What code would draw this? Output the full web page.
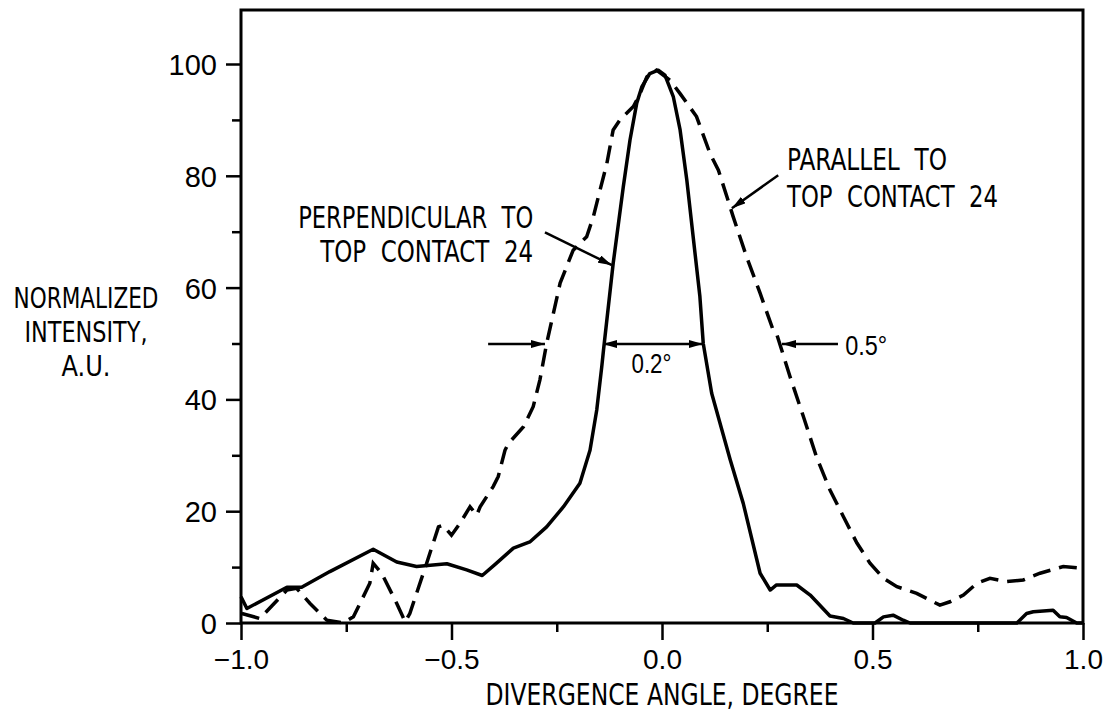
<!DOCTYPE html>
<html>
<head>
<meta charset="utf-8">
<script src="https://cdn.jsdelivr.net/npm/d3@7"></script>
<style>
  body { margin: 0; background: #fff; }
  svg { display: block; }
  text { fill: #000; }
  .num { font-family: 'Liberation Sans', Arial, sans-serif; }
  .lbl { font-family: 'DejaVu Sans Condensed', 'DejaVu Sans', sans-serif; font-stretch: condensed; }
</style>
</head>
<body>
<div id="root"></div>
<script>
const width = 1108;
const height = 715;
const margin = { top: 10, right: 25, bottom: 92, left: 241 };

// Perpendicular to top contact (solid)
const perpAngle = [
  -1.0, -0.986, -0.891, -0.856, -0.789, -0.686, -0.63, -0.583, -0.511, -0.464,
  -0.427, -0.393, -0.353, -0.314, -0.274, -0.234, -0.195, -0.171, -0.155, -0.143,
  -0.139, -0.116, -0.092, -0.076, -0.06, -0.048, -0.029, -0.009, 0.007, 0.027,
  0.043, 0.059, 0.074, 0.09, 0.098, 0.118, 0.162, 0.193, 0.233, 0.257,
  0.272, 0.32, 0.352, 0.399, 0.431, 0.454, 0.506, 0.526, 0.549, 0.573,
  0.589, 0.843, 0.866, 0.882, 0.929, 0.945, 0.961, 0.985, 1.0,
];
const perpIntensity = [
  4.7, 2.6, 6.4, 6.4, 9.2, 13.2, 10.9, 10.1, 10.6, 9.5,
  8.5, 10.7, 13.4, 14.5, 17.2, 20.8, 25.0, 30.9, 38.1, 45.9,
  48.8, 64.3, 78, 86.4, 93, 95.9, 98.3, 98.9, 98, 94.1,
  88.2, 79.2, 69.1, 58.4, 50, 41.1, 29.2, 21.4, 8.9, 5.9,
  6.8, 6.8, 5.0, 1.25, 0.8, 0, 0, 1.1, 1.4, 0.5,
  0, 0, 1.7, 2.0, 2.3, 1.1, 1.0, 0, 0,
];

// Parallel to top contact (dashed)
const paraAngle = [
  -0.998, -0.955, -0.891, -0.868, -0.836, -0.796, -0.757, -0.733, -0.694, -0.686,
  -0.666, -0.63, -0.61, -0.599, -0.559, -0.531, -0.52, -0.5, -0.48, -0.456,
  -0.44, -0.432, -0.401, -0.389, -0.373, -0.365, -0.329, -0.306, -0.29, -0.274,
  -0.242, -0.211, -0.179, -0.163, -0.147, -0.131, -0.116, -0.1, -0.068, -0.052,
  -0.036, -0.013, 0.019, 0.043, 0.082, 0.114, 0.134, 0.154, 0.169, 0.201,
  0.233, 0.264, 0.272, 0.304, 0.336, 0.367, 0.399, 0.431, 0.463, 0.494,
  0.526, 0.558, 0.605, 0.66, 0.684, 0.716, 0.748, 0.779, 0.819, 0.858,
  0.898, 0.953, 0.997,
];
const paraIntensity = [
  1.7, 0.8, 5.9, 6.2, 3.5, 0.5, 0, 1.1, 7.1, 10.7,
  8.9, 3.5, 0.2, 1.7, 10.7, 17.2, 17.5, 15.7, 17.8, 20.8,
  19.3, 20.8, 24.4, 26.2, 30.9, 32.1, 35.1, 38.7, 43.5, 50,
  60.8, 66.7, 69.1, 72.7, 77.5, 82.2, 88.2, 90, 92.4, 94.7,
  97.7, 98.9, 97.1, 94.7, 90.6, 84, 81, 76.3, 72.7, 65.5,
  59, 52.4, 51.8, 44.1, 36.9, 29.7, 23.8, 19, 14.3, 10.7,
  8.0, 6.5, 5.3, 3.2, 3.8, 5.0, 7.1, 8.0, 7.4, 7.7,
  8.9, 10.1, 9.8,
];

const xTicks = [-1.0, -0.75, -0.5, -0.25, 0, 0.25, 0.5, 0.75, 1.0];
const xTickLabels = ['\u22121.0', '', '\u22120.5', '', '0.0', '', '0.5', '', '1.0'];
const yTicks = [0, 10, 20, 30, 40, 50, 60, 70, 80, 90, 100];
const yTickLabels = ['0', '', '20', '', '40', '', '60', '', '80', '', '100'];

const xTitle = 'DIVERGENCE ANGLE, DEGREE';
const yTitle = ['NORMALIZED', 'INTENSITY,', 'A.U.'];
const perpLabel = ['PERPENDICULAR  TO', 'TOP  CONTACT  24'];
const paraLabel = ['PARALLEL  TO', 'TOP  CONTACT  24'];

// Main canvas

const svg = d3
  .select('#root')
  .append('svg')
  .attr('width', width)
  .attr('height', height);

const defs = svg.append('defs');

defs
  .append('marker')
  .attr('id', 'arrow')
  .attr('viewBox', '0 0 14 8')
  .attr('refX', 14)
  .attr('refY', 4)
  .attr('markerWidth', 14)
  .attr('markerHeight', 8)
  .attr('markerUnits', 'userSpaceOnUse')
  .attr('orient', 'auto-start-reverse')
  .append('path')
  .attr('d', 'M0,0 L14,4 L0,8 Z')
  .attr('fill', '#000');

// Scales

const xScale = d3
  .scaleLinear()
  .domain([-1, 1])
  .range([margin.left, width - margin.right]);

const yScale = d3
  .scaleLinear()
  .domain([0, 100])
  .range([height - margin.bottom, 64]);

// Frame

svg
  .append('path')
  .attr(
    'd',
    `M${margin.left},${height - margin.bottom} V${margin.top} H${width - margin.right} V${height - margin.bottom} Z`
  )
  .attr('fill', 'none')
  .attr('stroke', '#000')
  .attr('stroke-width', 3);

// Axes

const xAxis = d3
  .axisBottom(xScale)
  .tickValues(xTicks)
  .tickSizeOuter(0)
  .tickFormat((d, i) => xTickLabels[i]);

const xAxisG = svg
  .append('g')
  .attr('id', 'x-axis')
  .attr('transform', `translate(0, ${height - margin.bottom})`)
  .call(xAxis);

xAxisG.select('.domain').remove();
xAxisG
  .selectAll('.tick line')
  .attr('y2', (d, i) => (xTickLabels[i] ? 17 : 9))
  .attr('stroke-width', 2.5);
xAxisG
  .selectAll('.tick text')
  .attr('class', 'num')
  .attr('font-size', 28)
  .attr('y', 26)
  .attr('dy', '0.71em');

const yAxis = d3
  .axisLeft(yScale)
  .tickValues(yTicks)
  .tickSizeOuter(0)
  .tickFormat((d, i) => yTickLabels[i]);

const yAxisG = svg
  .append('g')
  .attr('id', 'y-axis')
  .attr('transform', `translate(${margin.left}, 0)`)
  .call(yAxis);

yAxisG.select('.domain').remove();
yAxisG
  .selectAll('.tick line')
  .attr('x2', (d, i) => (yTickLabels[i] ? -15 : -9))
  .attr('stroke-width', 2.5);
yAxisG
  .selectAll('.tick text')
  .attr('class', 'num')
  .attr('font-size', 29)
  .attr('x', -24)
  .attr('dy', '0.36em');

// Text helper: one <text> per line, squeezed to the measured width

function label(x, y, str, len, anchor, size, cls) {
  svg
    .append('text')
    .attr('class', cls || 'lbl')
    .attr('x', x)
    .attr('y', y)
    .attr('text-anchor', anchor)
    .attr('font-size', size)
    .attr('textLength', len)
    .attr('lengthAdjust', 'spacingAndGlyphs')
    .attr('xml:space', 'preserve')
    .text(str);
}

// Axis titles

label(xScale(0), 705, xTitle, 353, 'middle', 30);

const yTitleWidths = [145, 123, 49];
yTitle.forEach((t, i) => label(86, 308 + i * 34, t, yTitleWidths[i], 'middle', 29));

// Curves

const line = d3
  .line()
  .x((d) => xScale(d[0]))
  .y((d) => yScale(d[1]));

svg
  .append('path')
  .datum(perpAngle.map((a, i) => [a, perpIntensity[i]]))
  .attr('d', line)
  .attr('fill', 'none')
  .attr('stroke', '#000')
  .attr('stroke-width', 3.5)
  .attr('stroke-linejoin', 'round');

svg
  .append('path')
  .datum(paraAngle.map((a, i) => [a, paraIntensity[i]]))
  .attr('d', line)
  .attr('fill', 'none')
  .attr('stroke', '#000')
  .attr('stroke-width', 3.5)
  .attr('stroke-dasharray', '18,9');

// Annotations (angle, intensity)

const arrows = [
  { from: [-0.413, 49.9], to: [-0.278, 49.9], both: false },
  { from: [-0.14, 49.9], to: [0.097, 49.9], both: true },
  { from: [0.418, 49.9], to: [0.285, 49.9], both: false },
  { from: [-0.278, 69.9], to: [-0.119, 64.0], both: false },
  { from: [0.276, 80.1], to: [0.166, 74.2], both: false },
];

svg
  .selectAll('.arrow')
  .data(arrows)
  .enter()
  .append('line')
  .attr('class', 'arrow')
  .attr('x1', (d) => xScale(d.from[0]))
  .attr('y1', (d) => yScale(d.from[1]))
  .attr('x2', (d) => xScale(d.to[0]))
  .attr('y2', (d) => yScale(d.to[1]))
  .attr('stroke', '#000')
  .attr('stroke-width', 2.5)
  .attr('marker-end', 'url(#arrow)')
  .attr('marker-start', (d) => (d.both ? 'url(#arrow)' : null));

label(xScale(-0.025), yScale(44.7), '0.2\u00b0', 40, 'middle', 27, 'num');
label(xScale(0.435), yScale(47.9), '0.5\u00b0', 42, 'start', 27, 'num');

const perpWidths = [235, 213];
perpLabel.forEach((t, i) =>
  label(xScale(-0.306), yScale(i ? 64.6 : 70.7), t, perpWidths[i], 'end', 30)
);

const paraWidths = [160, 211];
paraLabel.forEach((t, i) =>
  label(xScale(0.297), yScale(i ? 74.4 : 81.0), t, paraWidths[i], 'start', 30)
);
</script>
</body>
</html>
